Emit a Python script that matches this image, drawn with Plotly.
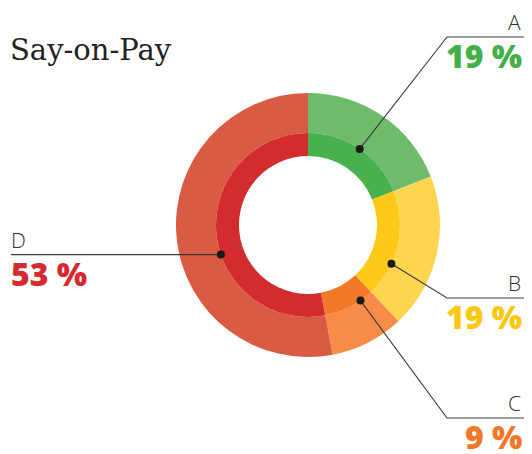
import math

import plotly.graph_objects as go


# Данные
LABELS = ["A", "B", "C", "D"]
VALUES = [19, 19, 9, 53]
PCT_TEXT = ["19 %", "19 %", "9 %", "53 %"]

OUTER_COLORS = ["#6EBB6B", "#FDD54F", "#F68C48", "#D95B43"]
INNER_COLORS = ["#48B04C", "#FEC918", "#F2782A", "#D42B2F"]
TEXT_COLORS = ["#45B049", "#FDC70F", "#F07828", "#D42A30"]

# Геометрия в пикселях окна; страница сдвигает график на 8 px (margin body)
WIN_W, WIN_H = 532, 454
OFF = 8
W, H = WIN_W - 2 * OFF, WIN_H - OFF
RIGHT = OFF + W
CX, CY = 308, 225
R_OUT, R_MID, R_HOLE = 132, 92, 69

# положение точки внутри сектора (доля) и излом выноски
LEADER_POS = [0.5, 0.68, 0.26, 0.43]
ELBOWS = [(447, 37), (447, 298), (447, 418), None]
LINE_END = [RIGHT, RIGHT, RIGHT, 11]


def domain(r):
    return dict(
        x=[(CX - OFF - r) / W, (CX - OFF + r) / W],
        y=[(WIN_H - CY - r) / H, (WIN_H - CY + r) / H],
    )


fig = go.Figure()

fig.add_trace(go.Pie(
    labels=LABELS, values=VALUES, sort=False, direction="clockwise",
    rotation=0, hole=R_MID / R_OUT, domain=domain(R_OUT),
    marker=dict(colors=OUTER_COLORS, line=dict(width=0)),
    textinfo="none", hoverinfo="label+percent", showlegend=False,
))
fig.add_trace(go.Pie(
    labels=LABELS, values=VALUES, sort=False, direction="clockwise",
    rotation=0, hole=R_HOLE / R_MID, domain=domain(R_MID),
    marker=dict(colors=INNER_COLORS, line=dict(width=0)),
    textinfo="none", hoverinfo="label+percent", showlegend=False,
))

# выноски
total = sum(VALUES)
start = 0
shapes = []
annotations = []
for i, v in enumerate(VALUES):
    frac = (start + v * LEADER_POS[i]) / total
    start += v
    ang = 2 * math.pi * frac
    dx = CX + R_MID * math.sin(ang)
    dy = CY - R_MID * math.cos(ang)

    if ELBOWS[i] is not None:
        ex, ey = ELBOWS[i]
        path = f"M {dx},{dy} L {ex},{ey} L {LINE_END[i]},{ey}"
        ly = ey
    else:
        path = f"M {dx},{dy} L {LINE_END[i]},{dy}"
        ly = dy
    shapes.append(dict(type="path", path=path, xref="x", yref="y",
                       line=dict(color="#3a3a3a", width=1.1), layer="above"))
    shapes.append(dict(type="circle", xref="x", yref="y",
                       x0=dx - 4, x1=dx + 4, y0=dy - 4, y1=dy + 4,
                       fillcolor="#1a1a1a", line=dict(width=0), layer="above"))

    right = LINE_END[i] > CX
    ax = RIGHT - 1 if right else 9
    anchor = "right" if right else "left"
    annotations.append(dict(
        x=ax, y=ly + 1, xref="x", yref="y", text=LABELS[i],
        xanchor=anchor, yanchor="bottom", showarrow=False,
        font=dict(family="Open Sans", size=21, color="#333333", weight=300),
    ))
    annotations.append(dict(
        x=ax + (0 if right else 1), y=ly - 4, xref="x", yref="y",
        text=PCT_TEXT[i], xanchor=anchor, yanchor="top", showarrow=False,
        borderpad=0,
        font=dict(family="Open Sans", size=32, color=TEXT_COLORS[i], weight=800),
    ))

annotations.append(dict(
    x=8, y=50, xref="x", yref="y", text="Say-on-Pay",
    xanchor="left", yanchor="middle", showarrow=False,
    font=dict(family="DejaVu Serif", size=29, color="#222222"),
))

fig.update_layout(
    width=W, height=H,
    margin=dict(l=0, r=0, t=0, b=0),
    paper_bgcolor="white", plot_bgcolor="rgba(0,0,0,0)",
    xaxis=dict(range=[OFF, RIGHT], visible=False, fixedrange=True),
    yaxis=dict(range=[WIN_H, OFF], visible=False, fixedrange=True),
    shapes=shapes,
    annotations=annotations,
)

fig.write_html("out.html")
